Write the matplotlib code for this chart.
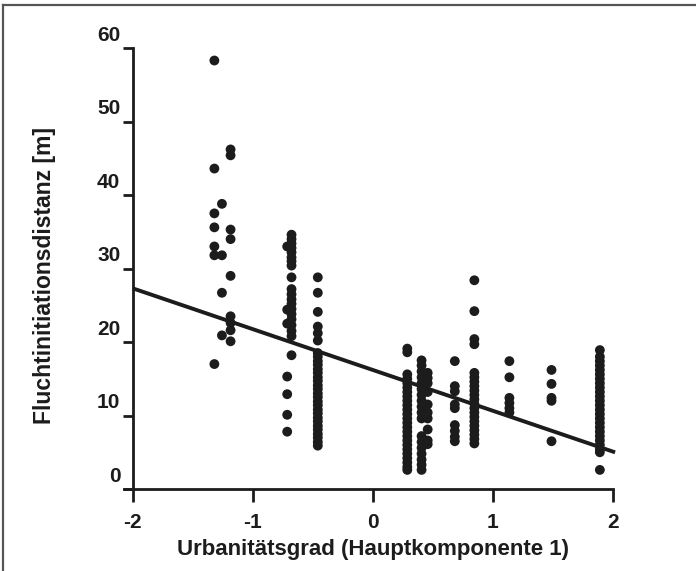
import numpy as np
import matplotlib
matplotlib.use('Agg')
import matplotlib.pyplot as plt
import matplotlib.transforms as mtransforms
from matplotlib.lines import Line2D

plt.rcParams['font.family'] = ['Liberation Sans', 'DejaVu Sans']
plt.rcParams['axes.unicode_minus'] = False

# Urbanitätsgrad (PC1) je Standort und gemessene Fluchtdistanzen
x_pos = [-1.32, -1.257, -1.185, -0.713, -0.677, -0.458, 0.288, 0.407,
         0.458, 0.684, 0.847, 1.139, 1.49, 1.893]

fid = [
    [58.3, 43.6, 37.5, 35.6, 33.0, 31.8, 17.0],
    [38.8, 31.8, 26.7, 20.9],
    [46.2, 45.4, 35.3, 34.0, 29.0, 23.5, 22.6, 21.6, 20.1],
    [33.0, 24.4, 22.5, 15.3, 12.9, 10.1, 7.8],
    [34.6, 34.0, 33.4, 32.8, 32.2, 31.5, 31.0, 30.4, 28.8, 27.2, 26.5,
     25.8, 25.2, 24.5, 23.8, 23.1, 22.3, 21.5, 20.8, 18.2],
    [28.8, 26.7, 24.1, 22.1, 21.2, 20.2, 18.5, 18.0, 17.4, 16.9, 16.3,
     15.8, 15.2, 14.7, 14.1, 13.6, 13.0, 12.5, 11.9, 11.4, 10.8, 10.3,
     9.7, 9.2, 8.6, 8.1, 7.5, 7.0, 6.4, 5.9],
    [19.1, 18.6, 15.6, 15.0, 14.4, 13.8, 13.2, 12.6, 12.0, 11.4, 10.8,
     10.2, 9.6, 9.0, 8.4, 7.8, 7.2, 6.6, 6.0, 5.4, 4.8, 4.2, 3.6, 3.0, 2.6],
    [17.5, 16.8, 16.0, 15.2, 14.4, 13.6, 12.8, 12.0, 11.2, 10.4, 9.6,
     7.2, 6.4, 5.6, 4.8, 4.0, 3.3, 2.6],
    [15.8, 15.1, 14.4, 13.2, 11.5, 10.4, 9.6, 8.1, 6.6, 6.1],
    [17.4, 14.0, 13.3, 11.5, 11.0, 8.7, 7.9, 7.1, 6.5],
    [28.4, 24.2, 20.4, 19.7, 15.8, 15.2, 14.6, 14.0, 13.4, 12.8, 12.2,
     11.6, 11.0, 10.4, 9.8, 9.2, 8.6, 8.0, 7.4, 6.8, 6.2],
    [17.4, 15.2, 12.4, 11.7, 11.0, 10.4],
    [16.2, 14.3, 12.4, 12.0, 6.5],
    [18.9, 18.0, 17.4, 16.8, 16.2, 15.6, 15.0, 14.4, 13.8, 13.2, 12.6,
     12.0, 11.4, 10.8, 10.2, 9.6, 9.0, 8.4, 7.8, 7.2, 6.6, 6.0, 5.4, 5.0, 2.6],
]

# Regressionsgerade
intercept = 16.2
slope = -5.55

x_ticks = [-2, -1, 0, 1, 2]
y_ticks = [0, 10, 20, 30, 40, 50, 60]

ink = '#1c1c1c'

fig = plt.figure(figsize=(6.96, 5.71), dpi=100)
ax = fig.add_axes([0.1908, 0.1436, 0.6895, 0.7723])

xs = np.concatenate([[x] * len(v) for x, v in zip(x_pos, fid)])
ys = np.concatenate(fid)
ax.scatter(xs, ys, s=50, color=ink, edgecolors='none', zorder=3, clip_on=False)

line_x = np.array([-2, 2.02])
ax.plot(line_x, intercept + slope * line_x, color=ink, lw=2.8,
        solid_capstyle='butt', zorder=4, clip_on=False)

ax.set_xlim(-2, 2)
ax.set_ylim(0, 60)
ax.set_xticks(x_ticks)
ax.set_yticks(y_ticks)

for s in ['top', 'right']:
    ax.spines[s].set_visible(False)
for s in ['left', 'bottom']:
    ax.spines[s].set_linewidth(2.0)
    ax.spines[s].set_color(ink)
ax.spines['bottom'].set_bounds(-2.07, 2)

ax.tick_params(axis='x', length=9, width=2.0, color=ink, pad=8,
               labelsize=15, labelcolor=ink)
ax.tick_params(axis='y', length=7, width=2.0, color=ink, pad=2,
               labelsize=15, labelcolor=ink)
for lab in ax.get_xticklabels() + ax.get_yticklabels():
    lab.set_fontweight('bold')

# y-Beschriftungen sitzen im Original etwas oberhalb der Striche
shift = mtransforms.ScaledTranslation(0, 0.15, fig.dpi_scale_trans)
for t in ax.yaxis.get_major_ticks():
    t.label1.set_transform(t.label1.get_transform() + shift)

ax.set_xlabel('Urbanitätsgrad (Hauptkomponente 1)', fontsize=16,
              fontweight='bold', color=ink)
ax.xaxis.set_label_coords(0.5, -0.114)
ax.set_ylabel('Fluchtinitiationsdistanz [m]', fontsize=16.5,
              fontweight='bold', color=ink, va='center')
ax.yaxis.set_label_coords(-0.183, 0.485)

# Scan-Rand oben und links
fig.add_artist(Line2D([0.0045, 0.0045], [0.0, 0.991], transform=fig.transFigure,
                      color='#555555', lw=1.6))
fig.add_artist(Line2D([0.0045, 1.0], [0.991, 0.991], transform=fig.transFigure,
                      color='#555555', lw=1.6))

fig.savefig('out.png', dpi=100)
